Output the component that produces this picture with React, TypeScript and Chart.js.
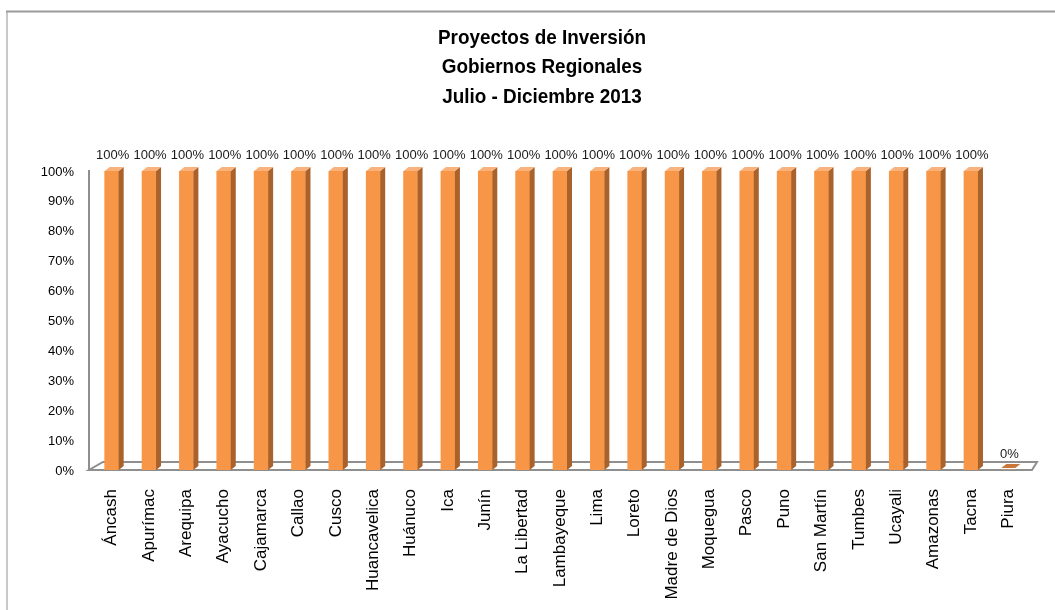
import React, { useEffect, useRef } from "react";
import { Chart, registerables } from "chart.js";

Chart.register(...registerables);

const titleLines = ["Proyectos de Inversión", "Gobiernos Regionales", "Julio - Diciembre 2013"];

const regions = [
  "Áncash", "Apurímac", "Arequipa", "Ayacucho", "Cajamarca", "Callao", "Cusco",
  "Huancavelica", "Huánuco", "Ica", "Junín", "La Libertad", "Lambayeque", "Lima",
  "Loreto", "Madre de Dios", "Moquegua", "Pasco", "Puno", "San Martín", "Tumbes",
  "Ucayali", "Amazonas", "Tacna", "Piura",
];

const percentValues = [
  100, 100, 100, 100, 100, 100, 100, 100, 100, 100, 100, 100, 100, 100, 100, 100,
  100, 100, 100, 100, 100, 100, 100, 100, 0,
];

const yTickMax = 100;
const yTickStep = 10;

const FONT = "'Liberation Sans', Arial, sans-serif";
const FRONT = "#F79646";
const SIDE = "#A9622B";
const TOP = "#FAB27C";
const FLAT = "#C9773A";

const framePlugin = {
  id: "frame",
  beforeDraw(chart: any) {
    const ctx = chart.ctx;
    ctx.save();
    ctx.fillStyle = "#ffffff";
    ctx.fillRect(0, 0, chart.width, chart.height);
    ctx.lineWidth = 2;
    ctx.strokeStyle = "#c8c8c8";
    ctx.beginPath();
    ctx.moveTo(7, 11);
    ctx.lineTo(7, chart.height);
    ctx.stroke();
    ctx.strokeStyle = "#9a9a9a";
    ctx.beginPath();
    ctx.moveTo(6, 11.5);
    ctx.lineTo(chart.width, 11.5);
    ctx.stroke();
    // title (slightly condensed to mimic the original face)
    ctx.fillStyle = "#000000";
    ctx.font = `bold 21px ${FONT}`;
    ctx.textAlign = "center";
    ctx.textBaseline = "middle";
    titleLines.forEach((line, i) => {
      ctx.save();
      ctx.translate(542, 38 + i * 29.5);
      ctx.scale(0.9, 1);
      ctx.fillText(line, 0, 0);
      ctx.restore();
    });
    ctx.restore();
  },
};

const floorPlugin = {
  id: "floor3d",
  beforeDatasetsDraw(chart: any) {
    const { ctx, chartArea } = chart;
    const { left, right, top, bottom } = chartArea;
    ctx.save();
    ctx.strokeStyle = "#8f8f8f";
    ctx.lineWidth = 2;
    ctx.beginPath();
    ctx.moveTo(left - 4, top - 1);
    ctx.lineTo(left - 4, bottom);
    ctx.stroke();
    ctx.beginPath();
    ctx.moveTo(left - 4, bottom);
    ctx.lineTo(right + 5, bottom);
    ctx.lineTo(right + 10, bottom - 8);
    ctx.lineTo(left + 10, bottom - 8);
    ctx.closePath();
    ctx.stroke();
    ctx.restore();
  },
};

const bar3dPlugin = {
  id: "bar3d",
  afterDatasetsDraw(chart: any) {
    const ctx = chart.ctx;
    const meta = chart.getDatasetMeta(0);
    const data = chart.data.datasets[0].data as number[];
    const dx = 5;
    const dy = 4;
    ctx.save();
    meta.data.forEach((bar: any, i: number) => {
      const { x, y, base, width } = bar.getProps(["x", "y", "base", "width"], true);
      const l = x - width / 2;
      const r = x + width / 2;
      if (Math.abs(base - y) > 0.5) {
        ctx.fillStyle = SIDE;
        ctx.beginPath();
        ctx.moveTo(r, y);
        ctx.lineTo(r + dx, y - dy);
        ctx.lineTo(r + dx, base - dy);
        ctx.lineTo(r, base);
        ctx.closePath();
        ctx.fill();
        ctx.fillStyle = TOP;
        ctx.beginPath();
        ctx.moveTo(l, y);
        ctx.lineTo(l + dx, y - dy);
        ctx.lineTo(r + dx, y - dy);
        ctx.lineTo(r, y);
        ctx.closePath();
        ctx.fill();
      } else {
        ctx.fillStyle = FLAT;
        ctx.beginPath();
        ctx.moveTo(l, base - 2);
        ctx.lineTo(l + dx, base - 2 - dy);
        ctx.lineTo(r + dx, base - 2 - dy);
        ctx.lineTo(r, base - 2);
        ctx.closePath();
        ctx.fill();
      }
      ctx.fillStyle = "#1a1a1a";
      ctx.font = `13px ${FONT}`;
      ctx.textAlign = "center";
      ctx.textBaseline = "alphabetic";
      ctx.fillText(`${data[i]}%`, x + 1, y - 12);
    });
    ctx.restore();
  },
};

export default function App() {
  const canvasRef = useRef<HTMLCanvasElement | null>(null);

  useEffect(() => {
    if (!canvasRef.current) return;
    const chart = new Chart(canvasRef.current, {
      type: "bar",
      data: {
        labels: regions,
        datasets: [
          {
            data: percentValues,
            backgroundColor: FRONT,
            borderWidth: 0,
            barThickness: 14,
          },
        ],
      },
      options: {
        animation: false,
        responsive: false,
        maintainAspectRatio: false,
        devicePixelRatio: 1,
        layout: { padding: { left: 0, right: 28, top: 171, bottom: 0 } },
        plugins: {
          legend: { display: false },
          tooltip: { enabled: false },
          title: { display: false },
        },
        scales: {
          x: {
            grid: { display: false, drawTicks: false },
            border: { display: false },
            ticks: {
              autoSkip: false,
              minRotation: 90,
              maxRotation: 90,
              padding: 19,
              color: "#000000",
              font: { family: FONT, size: 17 },
            },
            afterFit(scale: any) {
              scale.height = 140;
            },
          },
          y: {
            min: 0,
            max: yTickMax,
            grid: { display: false, drawTicks: false },
            border: { display: false },
            ticks: {
              stepSize: yTickStep,
              padding: 19,
              labelOffset: 1,
              color: "#000000",
              font: { family: FONT, size: 13 },
              callback: (v: any) => `${v}%`,
            },
            afterFit(scale: any) {
              scale.width = 93;
            },
          },
        },
      },
      plugins: [framePlugin, floorPlugin, bar3dPlugin],
    });
    return () => chart.destroy();
  }, []);

  return (
    <div style={{ position: "absolute", left: 0, top: 0, width: 1055, height: 610 }}>
      <canvas ref={canvasRef} width={1055} height={610} style={{ display: "block" }} />
    </div>
  );
}
